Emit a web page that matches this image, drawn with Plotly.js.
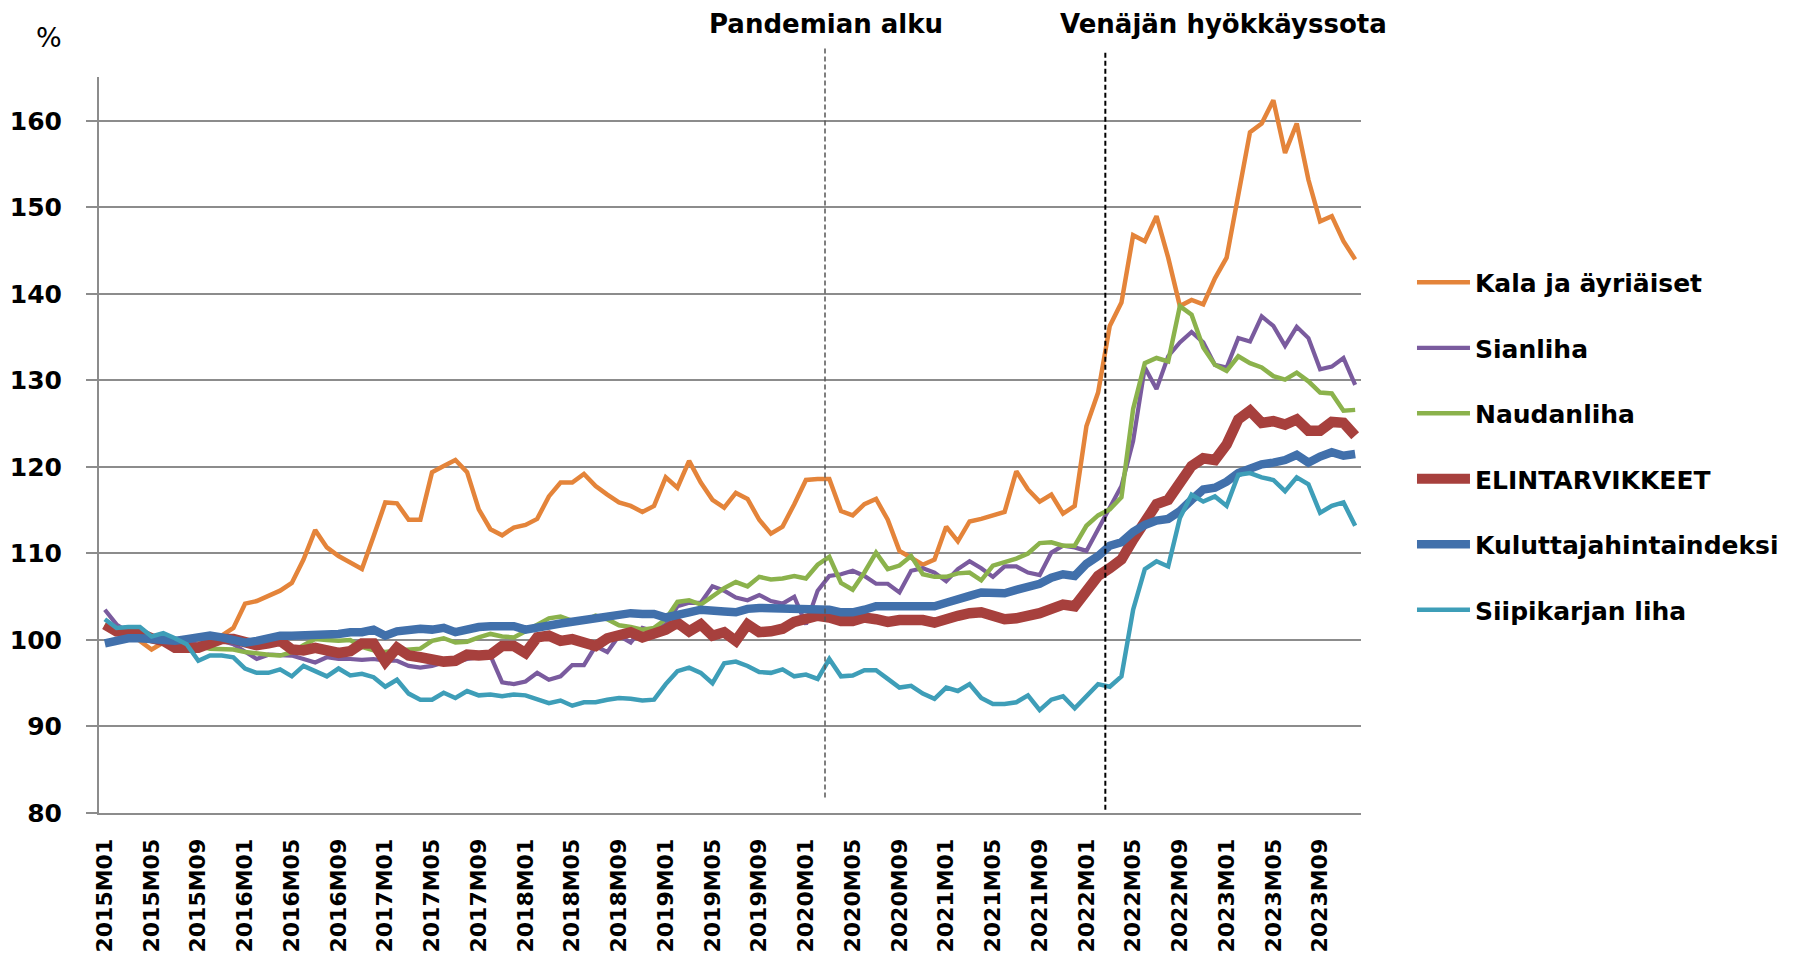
<!DOCTYPE html>
<html>
<head>
<meta charset="utf-8">
<script src="https://cdn.plot.ly/plotly-3.0.1.min.js"></script>
<style>html,body{margin:0;padding:0;background:#fff;}#chart{width:1801px;height:954px;}</style>
</head>
<body>
<div id="chart"></div>
<script>
// Categories: months 2015M01 .. 2023M12
var years = [2015, 2016, 2017, 2018, 2019, 2020, 2021, 2022, 2023];
var monthCodes = ['01','02','03','04','05','06','07','08','09','10','11','12'];
var categories = [];
years.forEach(function (y) { monthCodes.forEach(function (m) { categories.push(y + 'M' + m); }); });

// Tick labels shown on the x axis (every fourth month)
var tickLabels = ['2015M01','2015M05','2015M09','2016M01','2016M05','2016M09','2017M01','2017M05','2017M09',
  '2018M01','2018M05','2018M09','2019M01','2019M05','2019M09','2020M01','2020M05','2020M09',
  '2021M01','2021M05','2021M09','2022M01','2022M05','2022M09','2023M01','2023M05','2023M09'];
var yTicks = [80, 90, 100, 110, 120, 130, 140, 150, 160];

var kala = [
  101.5, 101.2, 100.6, 99.9, 98.9, 99.7, 99.9, 100.1, 100.0, 100.3, 100.5, 101.4,
  104.2, 104.5, 105.1, 105.7, 106.6, 109.3, 112.7, 110.7, 109.7, 109.0, 108.2, 112.0,
  115.9, 115.8, 113.9, 113.9, 119.4, 120.1, 120.8, 119.4, 115.1, 112.8, 112.1, 113.0,
  113.3, 114.0, 116.6, 118.2, 118.2, 119.2, 117.8, 116.8, 115.9, 115.5, 114.8, 115.5,
  118.8, 117.6, 120.7, 118.2, 116.2, 115.3, 117.0, 116.3, 113.9, 112.3, 113.1, 115.7,
  118.5, 118.6, 118.6, 114.9, 114.4, 115.7, 116.3, 113.9, 110.3, 109.5, 108.7, 109.3,
  113.1, 111.4, 113.7, 114.0, 114.4, 114.8, 119.5, 117.4, 116.0, 116.8, 114.6, 115.5,
  124.7, 128.6, 136.3, 139.0, 146.8, 146.1, 149.0, 144.2, 138.6, 139.3, 138.8, 141.8,
  144.2, 151.5, 158.7, 159.7, 162.4, 156.3, 159.7, 153.2, 148.4, 149.0, 146.1, 144.0];

var sianliha = [
  103.5, 101.8, 100.9, 100.5, 99.9, 99.8, 99.6, 99.5, 99.5, 99.9, 99.9, 99.5,
  98.7, 97.8, 98.3, 98.3, 98.2, 97.8, 97.4, 98.0, 97.8, 97.8, 97.7, 97.8,
  97.6, 97.6, 97.0, 96.8, 97.0, 97.4, 97.4, 97.8, 98.0, 98.2, 95.1, 94.9,
  95.2, 96.2, 95.4, 95.8, 97.1, 97.1, 99.3, 98.6, 100.5, 99.7, 101.4, 101.0,
  101.8, 103.9, 104.3, 104.3, 106.2, 105.7, 104.9, 104.6, 105.2, 104.5, 104.2, 105.0,
  101.8, 105.7, 107.4, 107.6, 108.0, 107.4, 106.5, 106.5, 105.5, 108.0, 108.3, 107.8,
  106.8, 108.2, 109.1, 108.3, 107.3, 108.5, 108.5, 107.8, 107.5, 110.1, 110.9, 110.7,
  110.3, 112.8, 115.1, 117.8, 123.0, 131.5, 129.0, 132.8, 134.4, 135.6, 134.4, 131.8,
  131.5, 134.9, 134.5, 137.4, 136.3, 134.0, 136.2, 134.9, 131.3, 131.6, 132.6, 129.5];

var naudanliha = [
  101.8, 101.0, 100.5, 100.2, 99.8, 99.6, 99.5, 99.4, 99.3, 99.0, 98.9, 98.9,
  98.6, 98.4, 98.3, 98.2, 98.6, 99.4, 100.1, 100.0, 99.9, 100.0, 99.2, 98.8,
  98.6, 98.8, 98.9, 99.0, 99.9, 100.2, 99.7, 99.8, 100.3, 100.7, 100.4, 100.3,
  101.0, 101.8, 102.5, 102.7, 102.2, 102.2, 102.8, 102.4, 101.7, 101.5, 101.2, 101.4,
  102.4, 104.4, 104.6, 104.1, 105.1, 106.0, 106.7, 106.2, 107.3, 107.0, 107.1, 107.4,
  107.1, 108.7, 109.6, 106.6, 105.8, 107.8, 110.1, 108.2, 108.6, 109.7, 107.6, 107.3,
  107.3, 107.7, 107.8, 106.9, 108.6, 109.0, 109.4, 110.0, 111.2, 111.3, 110.9, 110.9,
  113.2, 114.4, 115.1, 116.5, 126.7, 132.0, 132.6, 132.2, 138.6, 137.6, 133.8, 131.8,
  131.1, 132.8, 132.0, 131.5, 130.5, 130.1, 130.9, 129.9, 128.6, 128.5, 126.5, 126.6];

var elintarvikkeet = [
  101.8, 101.0, 100.9, 100.8, 100.2, 99.9, 99.1, 99.1, 99.1, 99.6, 100.1, 100.1,
  99.7, 99.4, 99.6, 99.9, 98.9, 98.8, 99.1, 98.7, 98.5, 98.7, 99.6, 99.6,
  97.5, 99.1, 98.2, 98.0, 97.6, 97.5, 97.6, 98.3, 98.2, 98.3, 99.3, 99.3,
  98.5, 100.3, 100.5, 99.9, 100.1, 99.8, 99.3, 100.2, 100.7, 100.9, 100.3, 100.7,
  101.2, 102.0, 101.0, 101.8, 100.5, 100.9, 99.9, 101.8, 100.9, 101.0, 101.3, 102.1,
  102.6, 102.8, 102.6, 102.2, 102.2, 102.6, 102.4, 102.1, 102.3, 102.4, 102.3, 102.0,
  102.5, 102.8, 103.1, 103.2, 102.8, 102.4, 102.5, 102.7, 103.1, 103.6, 104.1, 103.9,
  105.8, 107.4, 108.3, 109.3, 111.6, 113.6, 115.7, 116.2, 118.3, 120.1, 121.0, 120.8,
  122.6, 125.5, 126.5, 125.1, 125.3, 124.9, 125.5, 124.2, 124.2, 125.2, 125.1, 123.6];

var kuluttajahinta = [
  99.6, 99.9, 100.2, 100.2, 100.1, 99.9, 99.9, 100.1, 100.2, 100.5, 100.3, 100.1,
  99.7, 99.9, 100.3, 100.5, 100.5, 100.5, 100.5, 100.5, 100.7, 100.9, 100.9, 101.2,
  100.5, 101.0, 101.2, 101.3, 101.2, 101.4, 100.9, 101.3, 101.5, 101.6, 101.7, 101.6,
  101.2, 101.5, 101.8, 101.9, 102.1, 102.3, 102.4, 102.5, 102.8, 103.1, 103.0, 103.0,
  102.6, 102.8, 103.2, 103.5, 103.5, 103.3, 103.2, 103.6, 103.7, 103.7, 103.7, 103.7,
  103.5, 103.6, 103.5, 103.2, 103.2, 103.5, 103.9, 103.9, 103.9, 103.9, 103.8, 103.9,
  104.3, 104.8, 105.1, 105.5, 105.5, 105.4, 105.8, 106.2, 106.5, 107.2, 107.6, 107.4,
  108.8, 109.7, 110.9, 111.3, 112.5, 113.3, 113.8, 114.0, 114.9, 116.2, 117.4, 117.6,
  118.3, 119.3, 119.9, 120.3, 120.5, 120.8, 121.4, 120.5, 121.2, 121.7, 121.3, 121.5];

var siipikarja = [
  102.4, 101.4, 101.5, 101.5, 100.4, 100.8, 100.2, 99.5, 97.6, 98.2, 98.2, 98.0,
  96.7, 96.2, 96.2, 96.6, 95.8, 97.0, 96.4, 95.8, 96.7, 95.9, 96.1, 95.7,
  94.6, 95.4, 93.8, 93.1, 93.1, 93.9, 93.3, 94.1, 93.6, 93.7, 93.5, 93.7,
  93.6, 93.1, 92.7, 93.0, 92.4, 92.8, 92.8, 93.1, 93.3, 93.2, 93.0, 93.1,
  94.9, 96.4, 96.8, 96.2, 95.0, 97.3, 97.5, 97.0, 96.3, 96.2, 96.6, 95.8,
  96.0, 95.5, 97.8, 95.8, 95.9, 96.5, 96.5, 95.5, 94.5, 94.7, 93.8, 93.2,
  94.5, 94.1, 94.9, 93.3, 92.6, 92.6, 92.8, 93.6, 91.9, 93.1, 93.5, 92.1,
  93.5, 94.9, 94.6, 95.8, 103.5, 108.2, 109.1, 108.5, 114.1, 116.8, 116.0, 116.6,
  115.5, 119.1, 119.3, 118.8, 118.5, 117.2, 118.8, 118.0, 114.7, 115.5, 115.9, 113.2];

var seriesNames = ['Kala ja äyriäiset', 'Sianliha', 'Naudanliha', 'ELINTARVIKKEET', 'Kuluttajahintaindeksi', 'Siipikarjan liha'];
var seriesValues = [kala, sianliha, naudanliha, elintarvikkeet, kuluttajahinta, siipikarja];
var seriesColors = ['#E4843A', '#7A5B9E', '#8BB24C', '#A7403D', '#4170AB', '#3E9EB8'];
var seriesWidths = [4.5, 4.2, 4.5, 10.5, 8.5, 4.5];

var FONT = 'DejaVu Sans, Verdana, sans-serif';

var traces = seriesNames.map(function (n, k) {
  return {
    type: 'scatter', mode: 'lines', name: n, x: categories, y: seriesValues[k],
    legendgroup: 'g' + k,
    line: {color: seriesColors[k], width: seriesWidths[k], shape: 'linear'},
    hoverinfo: 'x+y+name'
  };
});

// Event markers (position between months)
var pandemicX = 61.63, warX = 85.62;

var layout = {
  width: 1801, height: 954,
  margin: {l: 99, r: 440, t: 77, b: 140.7, pad: 0},
  paper_bgcolor: '#ffffff', plot_bgcolor: '#ffffff',
  showlegend: true,
  font: {family: FONT, color: '#000000', size: 24},
  xaxis: {
    type: 'category', range: [-0.5, 107.5], autorange: false,
    tickmode: 'array', tickvals: tickLabels, ticktext: tickLabels,
    tickangle: -90, ticks: '', showgrid: false, zeroline: false,
    showline: true, linecolor: '#8c8c8c', linewidth: 2,
    tickfont: {family: FONT, size: 22, color: '#000000', weight: 'bold'},
    ticklabelstandoff: 15
  },
  yaxis: {
    range: [80, 165.08], autorange: false,
    tickmode: 'array', tickvals: yTicks, ticktext: yTicks.map(String),
    ticks: 'outside', ticklen: 11, tickwidth: 2, tickcolor: '#8c8c8c',
    showgrid: true, gridcolor: '#8c8c8c', gridwidth: 2, zeroline: false,
    showline: true, linecolor: '#8c8c8c', linewidth: 2,
    tickfont: {family: FONT, size: 25, color: '#000000', weight: 'bold'},
    ticklabelstandoff: 19
  },
  legend: {
    x: 1.0404, xanchor: 'left', y: 0.752, yanchor: 'top',
    traceorder: 'grouped', tracegroupgap: 30, itemwidth: 53,
    font: {family: FONT, size: 25, color: '#000000', weight: 'bold'},
    bgcolor: 'rgba(0,0,0,0)', borderwidth: 0
  },
  shapes: [
    {type: 'line', xref: 'x', yref: 'paper', x0: pandemicX, x1: pandemicX, y0: 0.0212, y1: 1.041,
     line: {color: '#555555', width: 1.5, dash: '5px,3px'}},
    {type: 'line', xref: 'x', yref: 'paper', x0: warX, x1: warX, y0: 0.0045, y1: 1.036,
     line: {color: '#000000', width: 2, dash: '5px,3px'}}
  ],
  annotations: [
    {text: 'Pandemian alku', xref: 'paper', yref: 'paper', x: 0.576, y: 1.072,
     xanchor: 'center', yanchor: 'middle', showarrow: false,
     font: {family: FONT, size: 26, color: '#000000', weight: 'bold'}},
    {text: 'Venäjän hyökkäyssota', xref: 'paper', yref: 'paper', x: 0.8914, y: 1.072,
     xanchor: 'center', yanchor: 'middle', showarrow: false,
     font: {family: FONT, size: 26, color: '#000000', weight: 'bold'}},
    {text: '%', xref: 'paper', yref: 'paper', x: -0.0396, y: 1.0543,
     xanchor: 'center', yanchor: 'middle', showarrow: false,
     font: {family: FONT, size: 27, color: '#000000'}}
  ]
};

Plotly.newPlot('chart', traces, layout, {displayModeBar: false, responsive: false, staticPlot: true});
</script>
</body>
</html>
